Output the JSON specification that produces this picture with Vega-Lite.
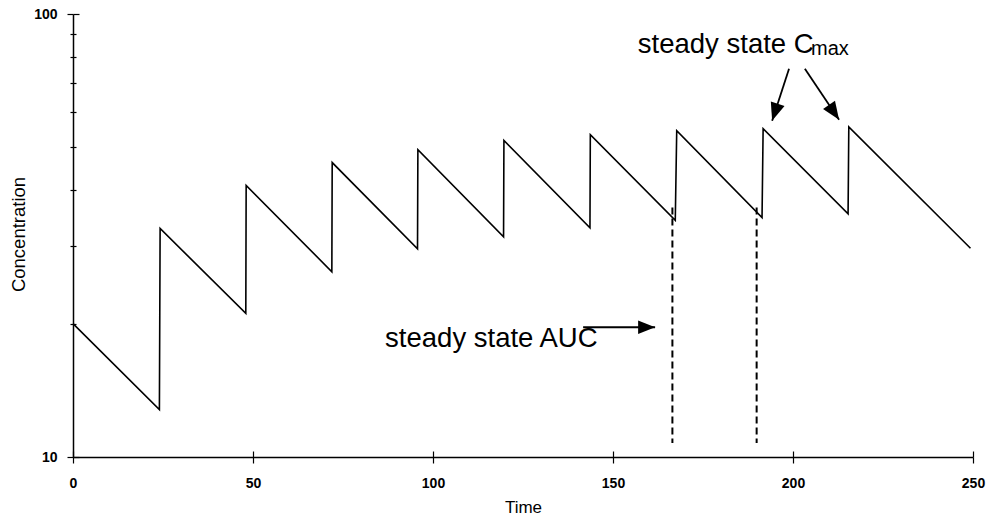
{
  "$schema": "https://vega.github.io/schema/vega-lite/v6.json",
  "width": 900,
  "height": 443,
  "autosize": {"type": "none"},
  "padding": {"left": 73, "top": 14, "right": 24, "bottom": 62},
  "background": "white",
  "config": {
    "view": {"stroke": null},
    "font": "Liberation Sans",
    "axis": {
      "grid": false,
      "domainColor": "black",
      "domainWidth": 1.5,
      "tickColor": "black",
      "tickWidth": 1.2,
      "labelFont": "Liberation Sans",
      "labelFontSize": 14,
      "labelFontWeight": "bold",
      "labelColor": "black",
      "titleFont": "Liberation Sans",
      "titleFontSize": 18,
      "titleFontWeight": "normal",
      "titleColor": "black"
    }
  },
  "datasets": {
    "conc": [
      {"i": 0, "t": 0, "c": 20.0},
      {"i": 1, "t": 24, "c": 12.8},
      {"i": 2, "t": 24.2, "c": 32.8},
      {"i": 3, "t": 48, "c": 21.1},
      {"i": 4, "t": 48.1, "c": 41.0},
      {"i": 5, "t": 71.9, "c": 26.2},
      {"i": 6, "t": 72, "c": 46.2},
      {"i": 7, "t": 95.7, "c": 29.5},
      {"i": 8, "t": 95.8, "c": 49.4},
      {"i": 9, "t": 119.6, "c": 31.4},
      {"i": 10, "t": 119.7, "c": 51.8},
      {"i": 11, "t": 143.6, "c": 32.9},
      {"i": 12, "t": 143.7, "c": 53.4},
      {"i": 13, "t": 167.3, "c": 34.2},
      {"i": 14, "t": 167.7, "c": 54.5},
      {"i": 15, "t": 191.4, "c": 34.7},
      {"i": 16, "t": 191.7, "c": 55.1},
      {"i": 17, "t": 215.3, "c": 35.4},
      {"i": 18, "t": 215.5, "c": 55.6},
      {"i": 19, "t": 249.3, "c": 29.6}
    ],
    "dashed": [
      {"t": 166.5, "c": 36.6, "c2": 10.75},
      {"t": 189.9, "c": 36.6, "c2": 10.75}
    ],
    "arrows": [
      {"name": "cmax1", "t": 198.9, "c": 75.2, "t2": 194.2, "c2": 57.4},
      {"name": "cmax2", "t": 203.3, "c": 75.2, "t2": 212.8, "c2": 57.7},
      {"name": "auc", "t": 141.7, "c": 19.63, "t2": 161.7, "c2": 19.63}
    ]
  },
  "resolve": {"axis": {"x": "independent", "y": "independent"}},
  "layer": [
    {
      "data": {"name": "conc"},
      "mark": {"type": "line", "color": "black", "strokeWidth": 1.6},
      "encoding": {
        "x": {
          "field": "t", "type": "quantitative",
          "scale": {"domain": [0, 250], "nice": false, "zero": false},
          "axis": {
            "orient": "bottom",
            "values": [0, 50, 100, 150, 200, 250],
            "title": "Time",
            "titleFontSize": 17,
            "tickSize": 6,
            "labelPadding": 13,
            "titleX": 450,
            "titleY": 55,
            "titleBaseline": "alphabetic",
            "labelFlush": false
          }
        },
        "y": {
          "field": "c", "type": "quantitative",
          "scale": {"type": "log", "domain": [10, 100], "nice": false},
          "axis": {
            "orient": "left",
            "values": [10, 20, 30, 40, 50, 60, 70, 80, 90, 100],
            "labelExpr": "datum.value === 10 || datum.value === 100 ? datum.label : ''",
            "tickSize": {"condition": {"test": "datum.value === 10 || datum.value === 100", "value": 6}, "value": 3},
            "labelPadding": 10,
            "title": "Concentration",
            "titleFontSize": 18.5,
            "titleX": -49,
            "titleY": 220,
            "titleBaseline": "alphabetic",
            "labelFlush": false
          }
        },
        "order": {"field": "i", "type": "quantitative"}
      }
    },
    {
      "data": {"name": "dashed"},
      "mark": {"type": "rule", "color": "black", "strokeWidth": 2, "strokeDash": [7, 4]},
      "encoding": {
        "x": {
          "field": "t", "type": "quantitative",
          "axis": {
            "orient": "bottom",
            "values": [0, 50, 100, 150, 200, 250],
            "tickSize": -6,
            "labels": false,
            "domain": false,
            "title": null
          }
        },
        "y": {
          "field": "c", "type": "quantitative",
          "axis": {
            "orient": "left",
            "values": [10, 20, 30, 40, 50, 60, 70, 80, 90, 100],
            "tickSize": {"condition": {"test": "datum.value === 10 || datum.value === 100", "value": -6}, "value": -3},
            "labels": false,
            "domain": false,
            "title": null
          }
        },
        "y2": {"field": "c2"}
      }
    },
    {
      "data": {"name": "arrows"},
      "mark": {"type": "rule", "color": "black", "strokeWidth": 1.8},
      "encoding": {
        "x": {"field": "t", "type": "quantitative", "axis": null},
        "y": {"field": "c", "type": "quantitative", "axis": null},
        "x2": {"field": "t2"},
        "y2": {"field": "c2"}
      }
    },
    {
      "data": {"name": "arrows"},
      "transform": [{"filter": "datum.name === 'cmax1'"}],
      "mark": {"type": "point", "filled": true, "color": "black", "opacity": 1, "shape": "M0,0L0.4,1L-0.4,1Z", "size": 1296, "angle": 198},
      "encoding": {
        "x": {"field": "t2", "type": "quantitative", "axis": null},
        "y": {"field": "c2", "type": "quantitative", "axis": null}
      }
    },
    {
      "data": {"name": "arrows"},
      "transform": [{"filter": "datum.name === 'cmax2'"}],
      "mark": {"type": "point", "filled": true, "color": "black", "opacity": 1, "shape": "M0,0L0.4,1L-0.4,1Z", "size": 1296, "angle": 146},
      "encoding": {
        "x": {"field": "t2", "type": "quantitative", "axis": null},
        "y": {"field": "c2", "type": "quantitative", "axis": null}
      }
    },
    {
      "data": {"name": "arrows"},
      "transform": [{"filter": "datum.name === 'auc'"}],
      "mark": {"type": "point", "filled": true, "color": "black", "opacity": 1, "shape": "M0,0L0.4,1L-0.4,1Z", "size": 1156, "angle": 90},
      "encoding": {
        "x": {"field": "t2", "type": "quantitative", "axis": null},
        "y": {"field": "c2", "type": "quantitative", "axis": null}
      }
    },
    {
      "data": {"values": [
        {"label": "steady state C", "t": 156.9, "c": 81.7},
        {"label": "steady state AUC", "t": 86.7, "c": 17.7}
      ]},
      "mark": {"type": "text", "align": "left", "baseline": "alphabetic", "fontSize": 27.5, "color": "black", "font": "Liberation Sans"},
      "encoding": {
        "x": {"field": "t", "type": "quantitative", "axis": null},
        "y": {"field": "c", "type": "quantitative", "axis": null},
        "text": {"field": "label"}
      }
    },
    {
      "data": {"values": [
        {"label": "max", "t": 205.0, "c": 80.9}
      ]},
      "mark": {"type": "text", "align": "left", "baseline": "alphabetic", "fontSize": 20, "color": "black", "font": "Liberation Sans"},
      "encoding": {
        "x": {"field": "t", "type": "quantitative", "axis": null},
        "y": {"field": "c", "type": "quantitative", "axis": null},
        "text": {"field": "label"}
      }
    }
  ]
}
